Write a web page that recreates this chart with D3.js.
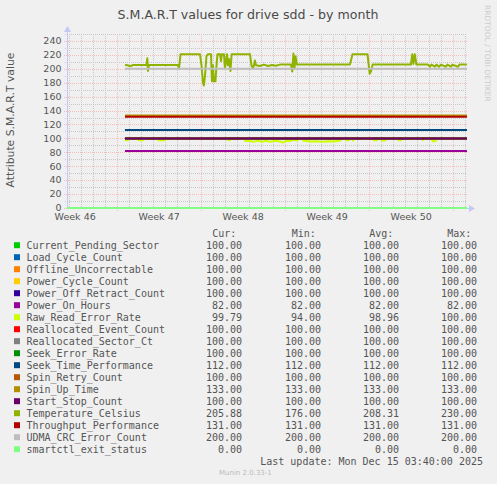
<!DOCTYPE html>
<html>
<head>
<meta charset="utf-8">
<script src="https://cdn.jsdelivr.net/npm/d3@7.9.0/dist/d3.min.js"></script>
<style>
  html, body { margin: 0; padding: 0; background: #f0f0f0; }
  svg { display: block; }
  text { font-family: "DejaVu Sans", sans-serif; }
  .mono text { font-family: "DejaVu Sans Mono", monospace; }
</style>
</head>
<body>
<svg id="chart" width="497" height="484"></svg>
<script>
const names = [
  'Current_Pending_Sector', 'Load_Cycle_Count', 'Offline_Uncorrectable',
  'Power_Cycle_Count', 'Power_Off_Retract_Count', 'Power_On_Hours',
  'Raw_Read_Error_Rate', 'Reallocated_Event_Count', 'Reallocated_Sector_Ct',
  'Seek_Error_Rate', 'Seek_Time_Performance', 'Spin_Retry_Count',
  'Spin_Up_Time', 'Start_Stop_Count', 'Temperature_Celsius',
  'Throughput_Performance', 'UDMA_CRC_Error_Count', 'smartctl_exit_status'
];
const colors = [
  '#00CC00', '#0066B3', '#FF8000', '#FFCC00', '#330099', '#990099',
  '#CCFF00', '#FF0000', '#808080', '#008F00', '#00487D', '#B35A00',
  '#B38F00', '#6B006B', '#8FB300', '#B30000', '#BEBEBE', '#80FF80'
];
const curVals = [100, 100, 100, 100, 100, 82, 99.79, 100, 100, 100, 112, 100, 133, 100, 205.88, 131, 200, 0];
const minVals = [100, 100, 100, 100, 100, 82, 94, 100, 100, 100, 112, 100, 133, 100, 176, 131, 200, 0];
const avgVals = [100, 100, 100, 100, 100, 82, 98.96, 100, 100, 100, 112, 100, 133, 100, 208.31, 131, 200, 0];
const maxVals = [100, 100, 100, 100, 100, 82, 100, 100, 100, 100, 112, 100, 133, 100, 230, 131, 200, 0];

// flat series keep one level; null = series moves (see point lists below)
const levels = [100, 100, 100, 100, 100, 82, null, 100, 100, 100, 112, 100, 133, 100, null, 131, 200, 0];

// [days after Sun Nov 16 2025 00:00 UTC, value]
const tempPoints = [
  [0.65, 205.5], [0.90, 205], [1.07, 203.5], [1.32, 205.5], [2.44, 205.5], [2.51, 215],
  [2.57, 197], [2.65, 205.5], [5.07, 205.5], [5.15, 200], [5.28, 221], [6.90, 221],
  [7.03, 205], [7.15, 180], [7.23, 176], [7.32, 190], [7.44, 218], [7.57, 221],
  [7.82, 221], [7.90, 182], [7.98, 205], [8.07, 182], [8.19, 182], [8.28, 205],
  [8.36, 221], [8.57, 221], [8.65, 211], [8.73, 221], [8.90, 221], [8.98, 201],
  [9.07, 210], [9.15, 221], [9.23, 205], [9.32, 214], [9.44, 197], [9.54, 221],
  [11.07, 221], [11.19, 205], [11.32, 200.5], [11.40, 205], [11.48, 212], [11.57, 205],
  [11.90, 204], [12.23, 206], [12.57, 204], [12.90, 205.5], [13.23, 204.5], [13.57, 206],
  [14.48, 206], [14.59, 196], [14.69, 222], [14.78, 200], [14.86, 218], [14.98, 206],
  [19.40, 206], [19.61, 221], [20.86, 221], [21.04, 193], [21.15, 196], [21.29, 206],
  [24.48, 206], [24.59, 221], [24.69, 207], [24.80, 221], [24.94, 206], [25.90, 206],
  [26.07, 203], [26.19, 206], [26.48, 203], [26.61, 206], [26.82, 203], [26.98, 206],
  [27.40, 203], [27.52, 206], [27.82, 203], [27.94, 206], [28.40, 203], [28.52, 206],
  [29.15, 206]
];
const rawReadPoints = [
  [0.65, 97.5], [0.90, 97.5], [0.98, 100], [1.69, 100], [1.78, 97.5], [2.15, 97.5],
  [2.23, 100], [3.36, 100], [3.44, 97.5], [3.98, 97.5], [4.07, 100], [9.19, 100],
  [9.26, 97.5], [9.40, 97.5], [9.48, 100], [10.61, 100], [10.69, 96], [11.07, 96.5],
  [11.32, 95], [11.73, 96.5], [12.07, 95], [12.40, 96.5], [12.73, 95], [13.15, 96.5],
  [13.57, 95.5], [13.82, 94], [14.07, 96.5], [14.40, 96], [14.65, 98], [14.82, 97.5],
  [15.07, 97.5], [15.15, 100], [15.44, 100], [15.53, 96.5], [16.07, 95.5], [16.57, 96],
  [17.07, 95], [17.57, 96], [18.07, 95.5], [18.57, 96.5], [18.65, 100], [19.03, 100],
  [19.11, 97.5], [19.32, 97.5], [19.40, 100], [19.57, 100], [19.65, 97], [19.73, 100],
  [21.28, 100], [21.36, 97.5], [21.65, 97.5], [21.73, 100], [21.94, 100], [22.03, 97],
  [22.32, 97], [22.40, 100], [23.36, 100], [23.44, 97.5], [23.65, 97.5], [23.73, 100],
  [25.40, 100], [25.48, 97.5], [25.57, 100], [26.19, 100], [26.28, 96], [26.53, 96],
  [26.61, 100], [29.15, 100]
];
const seriesStartDay = 0.65;
const exitStatusStartDay = -4.2;

const weekNums = [46, 47, 48, 49, 50];
const yTicks = [0, 20, 40, 60, 80, 100, 120, 140, 160, 180, 200, 220, 240];
const yMinor = [10, 30, 50, 70, 90, 110, 130, 150, 170, 190, 210, 230, 250];

const DAY = 86400000;
const refDay = Date.UTC(2025, 10, 16);           // Sunday Nov 16 2025
const end = new Date(Date.UTC(2025, 11, 15, 3, 40));
const start = new Date(end - 400 / 12 * DAY);     // munin month window
const toDate = (d) => new Date(refDay + d * DAY);

const plot = { left: 67, right: 467, top: 34, bottom: 208 };
const x = d3.scaleUtc().domain([start, end]).range([plot.left, plot.right]);
const y = d3.scaleLinear().domain([0, 250]).range([plot.bottom, plot.top]);

const svg = d3.select('#chart');
svg.append('rect').attr('width', 497).attr('height', 484).attr('fill', '#f0f0f0');

// title and side texts
svg.append('text').attr('x', 248).attr('y', 18.5).attr('text-anchor', 'middle')
  .attr('font-size', 12.6).attr('fill', '#4a4a4a')
  .text('S.M.A.R.T values for drive sdd - by month');
svg.append('text').attr('transform', 'translate(14,120) rotate(-90)')
  .attr('text-anchor', 'middle').attr('font-size', 10.8).attr('fill', '#555')
  .text('Attribute S.M.A.R.T value');
svg.append('text').attr('transform', 'translate(485,5) rotate(90)')
  .attr('font-size', 7.5).attr('fill', '#ccc')
  .text('RRDTOOL / TOBI OETIKER');

// grid
const grid = svg.append('g').attr('shape-rendering', 'crispEdges').attr('stroke-width', 1);
const minorColor = '#c8c8c8';
const majorColor = '#f5bcbc';
const days = d3.utcDay.range(d3.utcDay.ceil(start), end);
const sundays = d3.utcSunday.range(d3.utcSunday.ceil(start), end).map((d) => +d);
grid.selectAll('.vmin').data(days.filter((d) => !sundays.includes(+d))).join('line')
  .attr('x1', (d) => Math.round(x(d)) + 0.5).attr('x2', (d) => Math.round(x(d)) + 0.5)
  .attr('y1', plot.top).attr('y2', plot.bottom + 2)
  .attr('stroke', minorColor).attr('stroke-dasharray', '1,1');
grid.selectAll('.hmin').data(yMinor).join('line')
  .attr('x1', plot.left - 2).attr('x2', plot.right)
  .attr('y1', (d) => Math.round(y(d)) + 0.5).attr('y2', (d) => Math.round(y(d)) + 0.5)
  .attr('stroke', minorColor).attr('stroke-dasharray', '1,1');
grid.selectAll('.vmaj').data(sundays).join('line')
  .attr('x1', (d) => Math.round(x(d)) + 0.5).attr('x2', (d) => Math.round(x(d)) + 0.5)
  .attr('y1', plot.top).attr('y2', plot.bottom + 3)
  .attr('stroke', majorColor).attr('stroke-dasharray', '1,1');
grid.selectAll('.hmaj').data(yTicks).join('line')
  .attr('x1', plot.left - 3).attr('x2', plot.right)
  .attr('y1', (d) => Math.round(y(d)) + 0.5).attr('y2', (d) => Math.round(y(d)) + 0.5)
  .attr('stroke', majorColor).attr('stroke-dasharray', '1,1');

// tick labels
svg.append('g').selectAll('text').data(yTicks).join('text')
  .attr('x', plot.left - 5.5).attr('y', (d) => y(d)).attr('dy', '0.35em')
  .attr('text-anchor', 'end').attr('font-size', 9.5).attr('fill', '#555')
  .text((d) => d);
svg.append('g').selectAll('text').data(weekNums).join('text')
  .attr('x', (d, i) => x(toDate(-7 + i * 7 + 3.5))).attr('y', 219.5)
  .attr('text-anchor', 'middle').attr('font-size', 9.5).attr('fill', '#555')
  .text((d) => `Week ${d}`);

// axes
const axisColor = '#c4c8f4';
svg.append('line').attr('x1', plot.left + 0.5).attr('x2', plot.left + 0.5)
  .attr('y1', plot.bottom + 1).attr('y2', plot.top - 4)
  .attr('stroke', axisColor).attr('shape-rendering', 'crispEdges');
svg.append('path').attr('d', `M${plot.left - 3},${plot.top - 2}L${plot.left + 0.5},${plot.top - 8}L${plot.left + 4},${plot.top - 2}Z`)
  .attr('fill', axisColor);
svg.append('line').attr('x1', plot.left).attr('x2', plot.right + 3)
  .attr('y1', plot.bottom + 0.5).attr('y2', plot.bottom + 0.5)
  .attr('stroke', axisColor).attr('shape-rendering', 'crispEdges');
svg.append('path').attr('d', `M${plot.right + 2},${plot.bottom - 3}L${plot.right + 8},${plot.bottom + 0.5}L${plot.right + 2},${plot.bottom + 4}Z`)
  .attr('fill', axisColor);

// series
svg.append('clipPath').attr('id', 'clip').append('rect')
  .attr('x', plot.left).attr('y', plot.top - 2)
  .attr('width', plot.right - plot.left).attr('height', plot.bottom - plot.top + 4);

const line = d3.line().x((d) => x(toDate(d[0]))).y((d) => y(d[1]));
const seriesPoints = names.map((name, i) => {
  if (name === 'Temperature_Celsius') return tempPoints;
  if (name === 'Raw_Read_Error_Rate') return rawReadPoints;
  const s = name === 'smartctl_exit_status' ? exitStatusStartDay : seriesStartDay;
  return [[s, levels[i]], [29.15, levels[i]]];
});
svg.append('g').attr('clip-path', 'url(#clip)')
  .selectAll('path').data(seriesPoints).join('path')
  .attr('d', line).attr('fill', 'none')
  .attr('stroke', (d, i) => colors[i]).attr('stroke-width', 2)
  .attr('stroke-linejoin', 'round');

// legend
const legend = svg.append('g').attr('class', 'mono').attr('font-size', 10).attr('fill', '#555');
const colRight = [242, 321, 399, 477];
const headers = ['Cur:', 'Min:', 'Avg:', 'Max:'];
const headerLeft = [212.3, 291.7, 369.3, 447.3];
legend.selectAll('.hdr').data(headers).join('text')
  .attr('x', (d, i) => headerLeft[i]).attr('y', 233.3).attr('dy', '0.35em')
  .text((d) => d);
const rowY = (i) => 245.7 + i * 12;
legend.selectAll('rect').data(names).join('rect')
  .attr('x', 14).attr('y', (d, i) => rowY(i) - 3.5).attr('width', 6).attr('height', 6)
  .attr('fill', (d, i) => colors[i]);
legend.selectAll('.name').data(names).join('text')
  .attr('x', 26.5).attr('y', (d, i) => rowY(i)).attr('dy', '0.35em')
  .text((d) => d);
[curVals, minVals, avgVals, maxVals].forEach((vals, c) => {
  legend.append('g').selectAll('text').data(vals).join('text')
    .attr('x', colRight[c]).attr('y', (d, i) => rowY(i)).attr('dy', '0.35em')
    .attr('text-anchor', 'end').text((d) => d.toFixed(2));
});
legend.append('text').attr('x', 483).attr('y', 461.7).attr('dy', '0.35em')
  .attr('text-anchor', 'end').text('Last update: Mon Dec 15 03:40:00 2025');
svg.append('text').attr('x', 219).attr('y', 473).attr('dy', '0.35em')
  .attr('font-size', 7).attr('fill', '#bbb').text('Munin 2.0.33-1');
</script>
</body>
</html>
